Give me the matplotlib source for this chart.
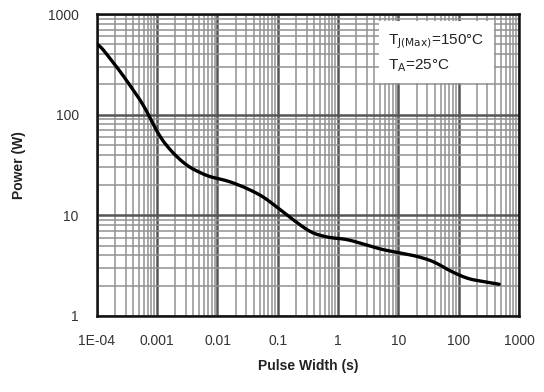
import numpy as np
from matplotlib import pyplot as plt
from matplotlib.ticker import LogLocator, FixedLocator, NullFormatter

plt.rcParams['font.family'] = ['Liberation Sans', 'DejaVu Sans']

# pulse width (s) vs. peak power (W)
pulse_width = [1e-4, 2.45e-4, 6.2e-4, 1e-3, 1.6e-3, 3.1e-3, 6.8e-3, 0.015,
               0.03, 0.056, 0.11, 0.19, 0.36, 0.7, 1.37, 2.6, 5.1, 10,
               19.5, 38, 72, 141, 275, 470]
power = [532, 269, 121, 66, 45, 31, 24.5, 22,
         18.7, 15.5, 11.4, 8.8, 6.7, 6.0, 5.8, 5.2, 4.6, 4.26,
         3.95, 3.5, 2.8, 2.34, 2.18, 2.05]

xticks = [1e-4, 1e-3, 1e-2, 1e-1, 1, 10, 100, 1000]
xticklabels = ['1E-04', '0.001', '0.01', '0.1', '1', '10', '100', '1000']
yticks = [1, 10, 100, 1000]
yticklabels = ['1', '10', '100', '1000']

fig = plt.figure(figsize=(5.44, 3.92), dpi=100)
ax = fig.add_axes([0.178, 0.194, 0.776, 0.770])
ax.set_xscale('log')
ax.set_yscale('log')
ax.set_xlim(1e-4, 1000)
ax.set_ylim(1, 1000)

ax.xaxis.set_major_locator(FixedLocator(xticks))
ax.set_xticklabels(xticklabels)
ax.yaxis.set_major_locator(FixedLocator(yticks))
ax.set_yticklabels(yticklabels)
ax.xaxis.set_minor_locator(LogLocator(base=10, subs=np.arange(2, 10), numticks=20))
ax.yaxis.set_minor_locator(LogLocator(base=10, subs=np.arange(2, 10), numticks=20))
ax.xaxis.set_minor_formatter(NullFormatter())
ax.yaxis.set_minor_formatter(NullFormatter())

ax.grid(which='major', color='#555555', lw=1.8)
ax.grid(which='minor', color='#919191', lw=1.1)
ax.set_axisbelow(True)
ax.tick_params(which='both', length=0, labelsize=10, colors='#333333', pad=13)
for s in ax.spines.values():
    s.set_linewidth(1.8)
    s.set_color('#111111')

# smooth the hand-read points in log space
lx = np.log10(pulse_width)
ly = np.log10(power)
xs = np.linspace(lx[0], lx[-1], 400)
ys = np.interp(xs, lx, ly)
k = np.ones(15) / 15
ys_s = np.convolve(np.pad(ys, 7, mode='edge'), k, mode='valid')
ax.plot(10 ** xs, 10 ** ys_s, color='black', lw=2.4, solid_capstyle='round', zorder=3)

ax.text(0.69, 0.94,
        r'T$_{\mathrm{J(Max)}}$=150°C' + '\n' + r'T$_{\mathrm{A}}$=25°C',
        transform=ax.transAxes, ha='left', va='top', fontsize=11,
        color='#222222', linespacing=1.5, zorder=5,
        bbox=dict(boxstyle='square,pad=0.6', facecolor='white', edgecolor='none'))

ax.set_xlabel('Pulse Width (s)', fontsize=10, fontweight='bold', color='#222222', labelpad=8)
ax.set_ylabel('Power (W)', fontsize=10, fontweight='bold', color='#222222', labelpad=16)

fig.savefig('out.png', dpi=100)
